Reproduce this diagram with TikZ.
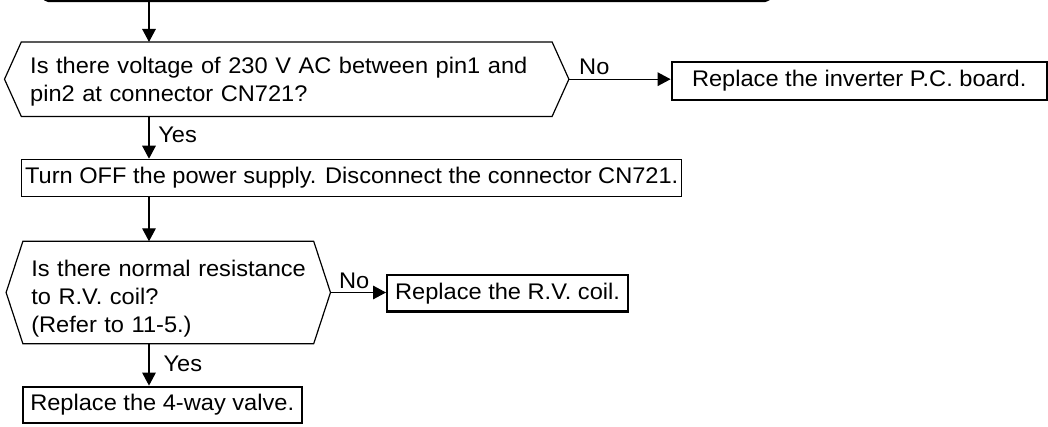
\documentclass[tikz,border=0pt]{standalone}
\usepackage{fontspec}
\setmainfont{Liberation Sans}[FakeStretch=1.045]
\usepackage{tikz}
\usetikzlibrary{arrows.meta,calc}

\tikzset{
    every node/.style={font=\fontsize{11.3}{14}\selectfont},
    thinbox/.style={draw,line width=0.6pt,inner sep=0pt},
    thickbox/.style={draw,line width=1.1pt,inner sep=0pt},
    question/.style={inner sep=0pt,align=left},
    hexline/.style={line width=0.6pt},
    arr/.style={line width=0.6pt,-{Triangle[length=6.5pt,width=6.8pt]}},
    lbl/.style={inner sep=0pt,anchor=base west}
}
\newcommand{\hexframe}[1]{\draw[hexline] (#1.north west) -- (#1.north east)
    -- ([xshift=8.4pt]#1.east) -- (#1.south east) -- (#1.south west)
    -- ([xshift=-8.4pt]#1.west) -- cycle;}

\begin{document}
\begin{tikzpicture}[x=0.5pt,y=-0.5pt]
    \useasboundingbox (0,0) rectangle (1048,427);
    \coordinate (spine) at (149,0);
    \node[thickbox,rounded corners=2.5pt,minimum width=363.25pt,minimum height=20pt] (prev) at (406.75,-19) {};
    \node[question,minimum width=265pt,minimum height=36.85pt,text width=256.5pt,text height=10.6pt] (dec1) at (286.7,79.2)
        {\mbox{Is there voltage of 230 V AC between pin1 and}\\pin2 at connector CN721?};
    \hexframe{dec1}
    \coordinate (dec1tip) at ([xshift=8.4pt]dec1.east);
    \node[thickbox,minimum width=187.5pt,minimum height=19.15pt] (board) at (859.2,80.85) {Replace the inverter P.C. board.};
    \node[thinbox,minimum width=330pt,minimum height=18.7pt] (turnoff) at (351.7,178)
        {Turn OFF the power supply. Disconnect the connector CN721.};
    \node[question,minimum width=145pt,minimum height=50.8pt,text width=137pt,text height=14.5pt] (dec2) at (168.3,292.5)
        {\mbox{Is there normal resistance}\\to R.V. coil?\\(Refer to 11-5.)};
    \hexframe{dec2}
    \coordinate (dec2tip) at ([xshift=8.4pt]dec2.east);
    \node[thickbox,anchor=west,inner xsep=4pt,minimum height=18.25pt] (rvcoil) at (386,293.25) {Replace the R.V. coil.};
    \node[thickbox,minimum width=139.5pt,minimum height=18.3pt] (valve) at (162.2,405) {Replace the 4-way valve.};

    \draw[arr] (prev.south -| spine) -- (dec1.north -| spine);
    \draw[arr] (dec1tip) -- node[lbl,pos=0,xshift=4.85pt,yshift=2.5pt] {No} (dec1tip -| board.west);
    \draw[arr] (dec1.south -| spine) -- node[lbl,pos=0.607,xshift=4.35pt] {Yes} (turnoff.north -| spine);
    \draw[arr] (turnoff.south -| spine) -- (dec2.north -| spine);
    \draw[arr] (dec2tip) -- node[lbl,pos=0,xshift=4pt,yshift=2.25pt] {No} (dec2tip -| rvcoil.west);
    \draw[arr] (dec2.south -| spine) -- node[lbl,pos=0.654,xshift=7pt] {Yes} (valve.north -| spine);
\end{tikzpicture}
\end{document}
